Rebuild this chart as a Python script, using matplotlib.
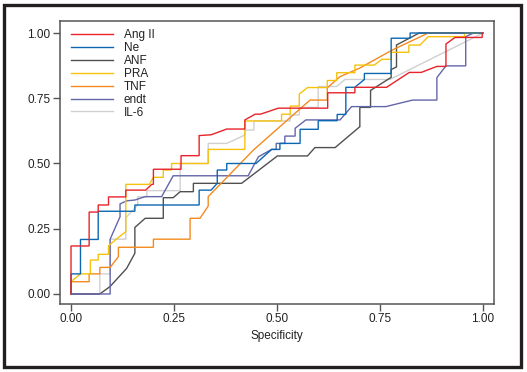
"""ROC-style step curves for seven markers, legend top left."""
import matplotlib
matplotlib.use("Agg")
import matplotlib.pyplot as plt
from matplotlib.patches import Rectangle

plt.rcParams["font.family"] = ["Liberation Sans Narrow", "Liberation Sans", "DejaVu Sans"]

LABELS = ["Ang II", "Ne", "ANF", "PRA", "TNF", "endt", "IL-6"]
COLORS = ["#e8232a", "#0b67b2", "#505050", "#f6c20c", "#f48a1f", "#6466aa", "#d0d0d0"]
TICKS = [0.0, 0.25, 0.5, 0.75, 1.0]
TICK_LABELS = ["0.00", "0.25", "0.50", "0.75", "1.00"]

ang_x = [0, 0, 0.044, 0.044, 0.066, 0.066, 0.091, 0.091, 0.133, 0.133, 0.181, 0.196, 0.2, 0.2,
         0.267, 0.267, 0.311, 0.311, 0.34, 0.378, 0.422, 0.422, 0.447, 0.46, 0.503, 0.623, 0.623,
         0.689, 0.689, 0.766, 0.821, 0.85, 0.888, 0.91, 0.91, 0.932, 0.998, 0.998]
ang_y = [0, 0.184, 0.184, 0.314, 0.314, 0.341, 0.341, 0.372, 0.372, 0.398, 0.398, 0.42, 0.42, 0.478,
         0.478, 0.53, 0.53, 0.607, 0.61, 0.632, 0.632, 0.667, 0.689, 0.689, 0.712, 0.712, 0.771,
         0.771, 0.792, 0.792, 0.849, 0.849, 0.872, 0.872, 0.958, 0.983, 0.983, 1.0]

ne_x = [0, 0, 0.023, 0.023, 0.066, 0.066, 0.155, 0.155, 0.311, 0.311, 0.34, 0.355, 0.355, 0.378,
        0.378, 0.449, 0.487, 0.507, 0.507, 0.556, 0.556, 0.6, 0.6, 0.646, 0.646, 0.667, 0.667,
        0.689, 0.712, 0.712, 0.777, 0.777, 0.823, 0.823, 1.0]
ne_y = [0, 0.077, 0.077, 0.209, 0.209, 0.317, 0.317, 0.341, 0.341, 0.398, 0.398, 0.424, 0.475, 0.475,
        0.5, 0.5, 0.554, 0.554, 0.577, 0.577, 0.631, 0.631, 0.664, 0.664, 0.688, 0.688, 0.792,
        0.792, 0.822, 0.845, 0.845, 0.98, 0.98, 1.0, 1.0]

anf_x = [0, 0.07, 0.095, 0.135, 0.155, 0.155, 0.18, 0.224, 0.224, 0.248, 0.265, 0.297, 0.297, 0.414,
         0.501, 0.574, 0.592, 0.641, 0.701, 0.701, 0.727, 0.727, 0.777, 0.777, 0.79, 0.79, 0.845, 1.0]
anf_y = [0, 0, 0.029, 0.098, 0.156, 0.255, 0.29, 0.29, 0.369, 0.369, 0.392, 0.392, 0.424, 0.424,
         0.529, 0.529, 0.561, 0.561, 0.641, 0.715, 0.715, 0.78, 0.83, 0.86, 0.87, 0.954, 1.0, 1.0]

pra_x = [0, 0, 0.023, 0.047, 0.047, 0.066, 0.066, 0.091, 0.091, 0.11, 0.133, 0.133, 0.19, 0.2, 0.224,
         0.224, 0.244, 0.244, 0.333, 0.333, 0.422, 0.422, 0.511, 0.511, 0.532, 0.532, 0.554, 0.554,
         0.574, 0.622, 0.622, 0.645, 0.645, 0.689, 0.689, 0.736, 0.754, 0.777, 0.777, 0.82, 0.82,
         0.847, 0.867, 0.955, 0.955, 1.0]
pra_y = [0, 0.047, 0.077, 0.077, 0.13, 0.13, 0.152, 0.152, 0.185, 0.21, 0.239, 0.42, 0.42, 0.447, 0.447,
         0.475, 0.475, 0.5, 0.5, 0.554, 0.554, 0.663, 0.663, 0.689, 0.689, 0.72, 0.72, 0.766,
         0.791, 0.791, 0.818, 0.818, 0.848, 0.848, 0.877, 0.877, 0.899, 0.899, 0.926, 0.926, 0.954,
         0.954, 0.986, 0.986, 1.0, 1.0]

tnf_x = [0, 0, 0.044, 0.044, 0.07, 0.07, 0.095, 0.115, 0.115, 0.2, 0.2, 0.289, 0.289, 0.313, 0.333,
         0.333, 0.443, 0.58, 0.622, 0.622, 0.653, 0.7, 0.78, 0.867, 1.0]
tnf_y = [0, 0.047, 0.047, 0.077, 0.077, 0.102, 0.102, 0.143, 0.179, 0.179, 0.21, 0.21, 0.29, 0.29,
         0.337, 0.373, 0.552, 0.743, 0.743, 0.79, 0.833, 0.865, 0.935, 1.0, 1.0]

endt_x = [0, 0.095, 0.095, 0.119, 0.119, 0.135, 0.155, 0.18, 0.22, 0.248, 0.43, 0.455, 0.487, 0.498,
          0.498, 0.519, 0.519, 0.544, 0.544, 0.57, 0.653, 0.681, 0.764, 0.829, 0.888, 0.888, 0.91,
          0.958, 0.958, 0.977, 1.0]
endt_y = [0, 0, 0.21, 0.296, 0.345, 0.357, 0.36, 0.373, 0.373, 0.453, 0.453, 0.526, 0.554, 0.554,
          0.577, 0.577, 0.605, 0.605, 0.635, 0.667, 0.667, 0.718, 0.718, 0.743, 0.743, 0.829, 0.874,
          0.874, 0.986, 1.0, 1.0]

il6_x = [0, 0.07, 0.07, 0.095, 0.095, 0.133, 0.133, 0.162, 0.162, 0.184, 0.184, 0.265, 0.265, 0.333,
         0.333, 0.378, 0.422, 0.422, 0.444, 0.444, 0.532, 0.532, 0.554, 0.554, 0.6, 0.6, 0.645,
         0.665, 0.774, 1.0]
il6_y = [0, 0, 0.077, 0.077, 0.21, 0.21, 0.292, 0.341, 0.373, 0.373, 0.396, 0.396, 0.5, 0.5,
         0.577, 0.577, 0.609, 0.628, 0.628, 0.663, 0.663, 0.686, 0.686, 0.715, 0.715, 0.795, 0.795,
         0.822, 0.822, 1.0]

CURVES = [(ang_x, ang_y), (ne_x, ne_y), (anf_x, anf_y), (pra_x, pra_y),
          (tnf_x, tnf_y), (endt_x, endt_y), (il6_x, il6_y)]

fig = plt.figure(figsize=(5.27, 3.72), dpi=100)
ax = fig.add_axes([60 / 527, 1 - 303.7 / 372, 433.7 / 527, 282.7 / 372])

# draw light lines first so the coloured ones sit on top
order = [6, 2, 5, 4, 3, 1, 0]
handles = {}
for i in order:
    xs, ys = CURVES[i]
    ln, = ax.plot(xs, ys, color=COLORS[i], lw=1.0, solid_joinstyle="miter")
    handles[i] = ln

ax.set_xlim(-0.0267, 1.0259)
ax.set_ylim(-0.0372, 1.046)
ax.set_xticks(TICKS)
ax.set_xticklabels(TICK_LABELS)
ax.set_yticks(TICKS)
ax.set_yticklabels(TICK_LABELS)
ax.tick_params(direction="out", length=5, width=1.0, color="#555555",
               labelsize=8.5, labelcolor="#222222", pad=2)
for sp in ax.spines.values():
    sp.set_color("#555555")
    sp.set_linewidth(1.1)
ax.set_xlabel("Specificity", fontsize=8.5, color="#222222", labelpad=3)

leg = ax.legend([handles[i] for i in range(7)], LABELS, loc="upper left",
                bbox_to_anchor=(0.025, 0.972), frameon=False, fontsize=8.5,
                handlelength=3.6, handletextpad=0.9, labelspacing=0.08,
                borderpad=0, borderaxespad=0)
for t in leg.get_texts():
    t.set_color("#222222")

fig.patches.append(Rectangle((4 / 527, 1 - 366.7 / 372), 517 / 527, 361.5 / 372,
                             transform=fig.transFigure, fill=False,
                             edgecolor="#231f20", lw=2.4))

fig.savefig("out.png", dpi=100)
